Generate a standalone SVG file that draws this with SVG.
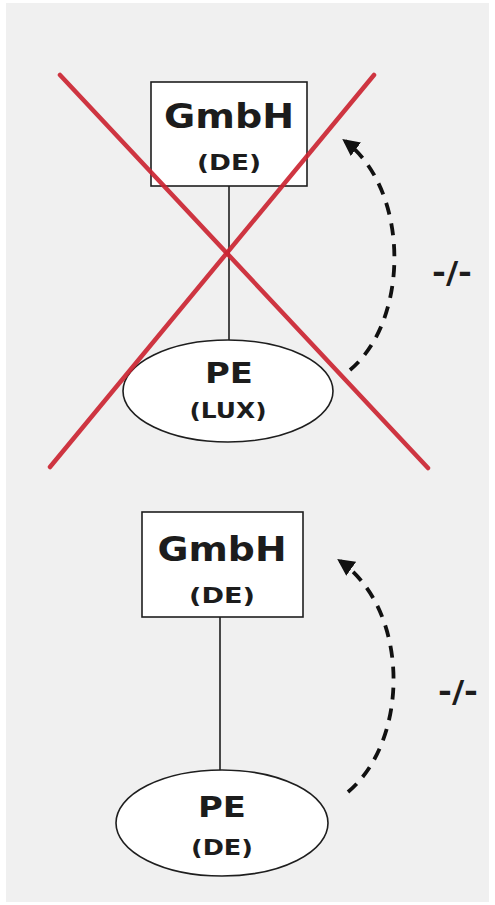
<svg xmlns="http://www.w3.org/2000/svg" width="495" height="905" viewBox="0 0 495 905">
<style>
.bg{fill:#f0f0f0}
.node{fill:#ffffff;stroke:#1e1e1e;stroke-width:1.6}
.t{font-family:"DejaVu Sans",sans-serif;font-weight:bold;fill:#1c1c1c;text-anchor:middle}
.link{stroke:#1e1e1e;stroke-width:1.6;fill:none}
.dash{stroke:#111;stroke-width:3.8;fill:none;stroke-dasharray:12 9;marker-end:url(#arr)}
.cross{stroke:#cc2633;stroke-width:4.5;stroke-linecap:round;opacity:0.92}
</style>
<defs>
<marker id="arr" viewBox="0 0 10 10" refX="8" refY="5" markerWidth="4.5" markerHeight="4.5" orient="auto" markerUnits="strokeWidth">
<path d="M0,0 L10,5 L0,10 z" fill="#111"/>
</marker>
</defs>
<rect width="495" height="905" fill="#ffffff"/>
<rect class="bg" x="6" y="3" width="483" height="899"/>
<g id="connectors">
<line class="link" x1="229" y1="186" x2="229" y2="340"/>
<line class="link" x1="220" y1="617" x2="220" y2="770"/>
<path class="dash" d="M350,370 C410,320 410,190 345,141"/>
<path class="dash" d="M348,792 C410,740 410,610 340,561"/>
</g>
<g id="gmbh-top">
<rect class="node" x="151" y="82" width="156" height="104"/>
<text class="t" x="229" y="128" font-size="34" textLength="130" lengthAdjust="spacingAndGlyphs">GmbH</text>
<text class="t" x="229" y="170" font-size="22" textLength="64" lengthAdjust="spacingAndGlyphs">(DE)</text>
</g>
<g id="pe-lux">
<ellipse class="node" cx="228" cy="391" rx="105" ry="51"/>
<text class="t" x="229" y="383" font-size="28" textLength="48" lengthAdjust="spacingAndGlyphs">PE</text>
<text class="t" x="228" y="418" font-size="22" textLength="77" lengthAdjust="spacingAndGlyphs">(LUX)</text>
</g>
<g id="label-top">
<text class="t" x="452" y="283" font-size="30" textLength="40" lengthAdjust="spacingAndGlyphs">-/-</text>
</g>
<g id="cross">
<line class="cross" x1="60" y1="75" x2="428" y2="468"/>
<line class="cross" x1="374" y1="75" x2="50" y2="467"/>
</g>
<g id="gmbh-bottom">
<rect class="node" x="142" y="512" width="161" height="105"/>
<text class="t" x="222" y="561" font-size="34" textLength="129" lengthAdjust="spacingAndGlyphs">GmbH</text>
<text class="t" x="222" y="603" font-size="22" textLength="66" lengthAdjust="spacingAndGlyphs">(DE)</text>
</g>
<g id="pe-de">
<ellipse class="node" cx="222" cy="823" rx="106" ry="53"/>
<text class="t" x="222" y="817" font-size="28" textLength="48" lengthAdjust="spacingAndGlyphs">PE</text>
<text class="t" x="222" y="855" font-size="22" textLength="62" lengthAdjust="spacingAndGlyphs">(DE)</text>
</g>
<g id="label-bottom">
<text class="t" x="458" y="702" font-size="30" textLength="40" lengthAdjust="spacingAndGlyphs">-/-</text>
</g>
</svg>
